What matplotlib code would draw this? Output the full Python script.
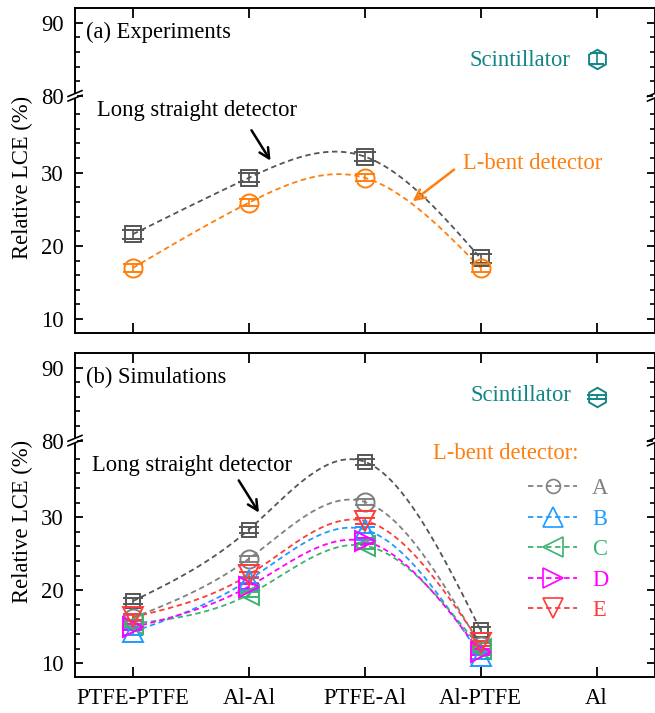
import numpy as np
import matplotlib
matplotlib.use('Agg')
import matplotlib.pyplot as plt
from matplotlib.lines import Line2D
from matplotlib.ticker import FixedLocator, NullFormatter

plt.rcParams['font.family'] = ['Liberation Serif', 'DejaVu Serif']
plt.rcParams['font.size'] = 16.3

# ---------------- data ----------------
categories = ['PTFE-PTFE', 'Al-Al', 'PTFE-Al', 'Al-PTFE', 'Al']

exp_long = [21.6, 29.3, 32.2, 18.3]
exp_long_err = [0.6, 0.6, 0.6, 0.6]
exp_lbent = [17.0, 25.9, 29.3, 17.0]
exp_lbent_err = [0.5, 0.5, 0.5, 0.5]
exp_scint = [85.1]
exp_scint_err = [0.8]

sim_long = [18.5, 28.3, 37.6, 14.5]
sim_A = [16.2, 24.3, 32.1, 12.3]
sim_B = [14.3, 21.4, 28.3, 11.0]
sim_C = [15.4, 19.4, 26.1, 12.0]
sim_D = [14.9, 20.5, 26.7, 11.5]
sim_E = [16.3, 22.1, 29.5, 12.7]
sim_err = [0.4, 0.4, 0.4, 0.4]
sim_scint = [86.0]
sim_scint_err = [0.25]

# colors
C_LONG = '#555555'
C_A = '#808080'
C_B = '#1E9BFF'
C_C = '#3CB371'
C_D = '#FF00FF'
C_E = '#FF3B3B'
C_ORANGE = '#FF7F0E'
C_TEAL = '#138585'

# -------------- broken-axis scale --------------
def fwd(y):
    y = np.asarray(y, dtype=float)
    return np.where(y <= 40, y, np.where(y >= 80, y - 39.5, 40 + (y - 40) * 0.5 / 40))

def inv(t):
    t = np.asarray(t, dtype=float)
    return np.where(t <= 40, t, np.where(t >= 40.5, t + 39.5, 40 + (t - 40) * 80))

def spline(x, y, xs):
    x = np.asarray(x, float); y = np.asarray(y, float)
    n = len(x)
    h = np.diff(x)
    A = np.zeros((n, n)); r = np.zeros(n)
    A[0, 0] = 1; A[-1, -1] = 1
    for i in range(1, n - 1):
        A[i, i - 1] = h[i - 1]
        A[i, i] = 2 * (h[i - 1] + h[i])
        A[i, i + 1] = h[i]
        r[i] = 6 * ((y[i + 1] - y[i]) / h[i] - (y[i] - y[i - 1]) / h[i - 1])
    M = np.linalg.solve(A, r)
    out = np.empty_like(xs)
    for k, xv in enumerate(xs):
        i = min(max(np.searchsorted(x, xv) - 1, 0), n - 2)
        t1 = x[i + 1] - xv; t0 = xv - x[i]
        out[k] = (M[i] * t1 ** 3 / (6 * h[i]) + M[i + 1] * t0 ** 3 / (6 * h[i])
                  + (y[i] / h[i] - M[i] * h[i] / 6) * t1
                  + (y[i + 1] / h[i] - M[i + 1] * h[i] / 6) * t0)
    return out

fig = plt.figure(figsize=(6.55, 7.13), dpi=100)
W, H = 655.0, 713.0
axA = fig.add_axes([75 / W, 1 - 333 / H, 579.5 / W, 325 / H])
axB = fig.add_axes([75 / W, 1 - 677 / H, 579.5 / W, 324 / H])

xpos = np.arange(len(categories))
xs = np.linspace(0, 3, 300)
DASH = (3.0, 2.0)


def style_axis(ax, show_xlabels):
    ax.set_yscale('function', functions=(fwd, inv))
    ax.set_ylim(8.1, 92)
    ax.set_xlim(-0.5, 4.5)
    ax.yaxis.set_major_locator(FixedLocator([10, 20, 30, 80, 90]))
    ax.yaxis.set_minor_locator(FixedLocator([12, 14, 16, 18, 22, 24, 26, 28, 32, 34, 36, 38,
                                             82, 84, 86, 88]))
    ax.yaxis.set_minor_formatter(NullFormatter())
    ax.set_yticklabels(['10', '20', '30', '80', '90'])
    ax.set_xticks(xpos)
    if show_xlabels:
        ax.set_xticklabels(categories)
    else:
        ax.set_xticklabels([])
    ax.tick_params(axis='both', which='both', direction='in', top=True, right=True)
    ax.tick_params(axis='x', which='major', length=7, width=1.3, pad=8)
    ax.tick_params(axis='y', which='major', length=6, width=1.3, pad=8)
    ax.tick_params(axis='y', which='minor', length=3.5, width=1.2)
    for s in ax.spines.values():
        s.set_linewidth(1.4)
    ax.set_ylabel('Relative LCE (%)')
    ax.yaxis.set_label_coords(-0.073, 0.48)
    # break marks
    yf = (fwd(80) - fwd(8.1)) / (fwd(92) - fwd(8.1))
    for xb in (0.0, 1.0):
        ax.plot([xb, xb], [yf - 0.006, yf + 0.006], transform=ax.transAxes, color='white',
                lw=3, clip_on=False, zorder=10, solid_capstyle='butt')
        for dy in (-0.007, 0.007):
            ax.plot([xb - 0.012, xb + 0.012], [yf + dy - 0.009, yf + dy + 0.009],
                    transform=ax.transAxes, color='black', lw=1.2, clip_on=False, zorder=11)


def series(ax, y, err, color, marker, ms, capsize):
    ax.plot(xs, spline(xpos[:4], y, xs), ls=(0, DASH), color=color, lw=1.3, zorder=2)
    ax.errorbar(xpos[:4], y, yerr=err, fmt=marker, ms=ms, mfc='none', mec=color, mew=1.4,
                ecolor=color, elinewidth=1.2, capsize=capsize, capthick=1.4, zorder=3)

# ---------- panel (a) ----------
style_axis(axA, False)
series(axA, exp_long, exp_long_err, C_LONG, 's', 11, 8)
series(axA, exp_lbent, exp_lbent_err, C_ORANGE, 'o', 13, 7)
axA.errorbar(xpos[4:], exp_scint, yerr=exp_scint_err, fmt='h', ms=14, mfc='none', mec=C_TEAL,
             mew=1.4, ecolor=C_TEAL, elinewidth=1.2, capsize=5, capthick=1.4)
axA.text(0.019, 0.926, '(a) Experiments', transform=axA.transAxes, ha='left', va='center')
axA.text(0.038, 0.686, 'Long straight detector', transform=axA.transAxes, ha='left', va='center')
axA.annotate('', xy=(0.340, 0.523), xytext=(0.302, 0.631), xycoords='axes fraction',
             arrowprops=dict(arrowstyle='->', color='black', lw=1.8, mutation_scale=18))
axA.text(0.670, 0.523, 'L-bent detector', transform=axA.transAxes, ha='left', va='center',
         color=C_ORANGE)
axA.annotate('', xy=(0.579, 0.400), xytext=(0.658, 0.508), xycoords='axes fraction',
             arrowprops=dict(arrowstyle='->', color=C_ORANGE, lw=1.8, mutation_scale=18))
axA.text(0.680, 0.840, 'Scintillator', transform=axA.transAxes, ha='left', va='center',
         color=C_TEAL)

# ---------- panel (b) ----------
style_axis(axB, True)
series(axB, sim_long, sim_err, C_LONG, 's', 9.5, 7.5)
series(axB, sim_A, sim_err, C_A, 'o', 13, 7)
series(axB, sim_B, sim_err, C_B, '^', 14, 7)
series(axB, sim_C, sim_err, C_C, '<', 14, 7)
series(axB, sim_D, sim_err, C_D, '>', 14, 7)
series(axB, sim_E, sim_err, C_E, 'v', 14, 7)
axB.errorbar(xpos[4:], sim_scint, yerr=sim_scint_err, fmt='h', ms=14, mfc='none', mec=C_TEAL,
             mew=1.4, ecolor=C_TEAL, elinewidth=1.2, capsize=7, capthick=1.4)
axB.text(0.019, 0.926, '(b) Simulations', transform=axB.transAxes, ha='left', va='center')
axB.text(0.029, 0.654, 'Long straight detector', transform=axB.transAxes, ha='left', va='center')
axB.annotate('', xy=(0.320, 0.500), xytext=(0.280, 0.614), xycoords='axes fraction',
             arrowprops=dict(arrowstyle='->', color='black', lw=1.8, mutation_scale=18))
axB.text(0.682, 0.870, 'Scintillator', transform=axB.transAxes, ha='left', va='center',
         color=C_TEAL)
axB.text(0.618, 0.691, 'L-bent detector:', transform=axB.transAxes, ha='left', va='center',
         color=C_ORANGE)

labels = ['A', 'B', 'C', 'D', 'E']
handles = []
for c, m, s in zip([C_A, C_B, C_C, C_D, C_E], ['o', '^', '<', '>', 'v'],
                   [10, 14, 14, 14, 14]):
    handles.append(Line2D([], [], ls=(0, DASH), lw=1.3, color=c, marker=m, ms=s,
                          mfc='none', mec=c, mew=1.2))
axB.legend(handles, labels, loc='upper left', bbox_to_anchor=(0.782, 0.614), frameon=False,
           borderpad=0, borderaxespad=0, handlelength=2.17, handletextpad=0.66,
           labelspacing=0.42, labelcolor='linecolor', numpoints=1)

fig.savefig('out.png', dpi=100)
